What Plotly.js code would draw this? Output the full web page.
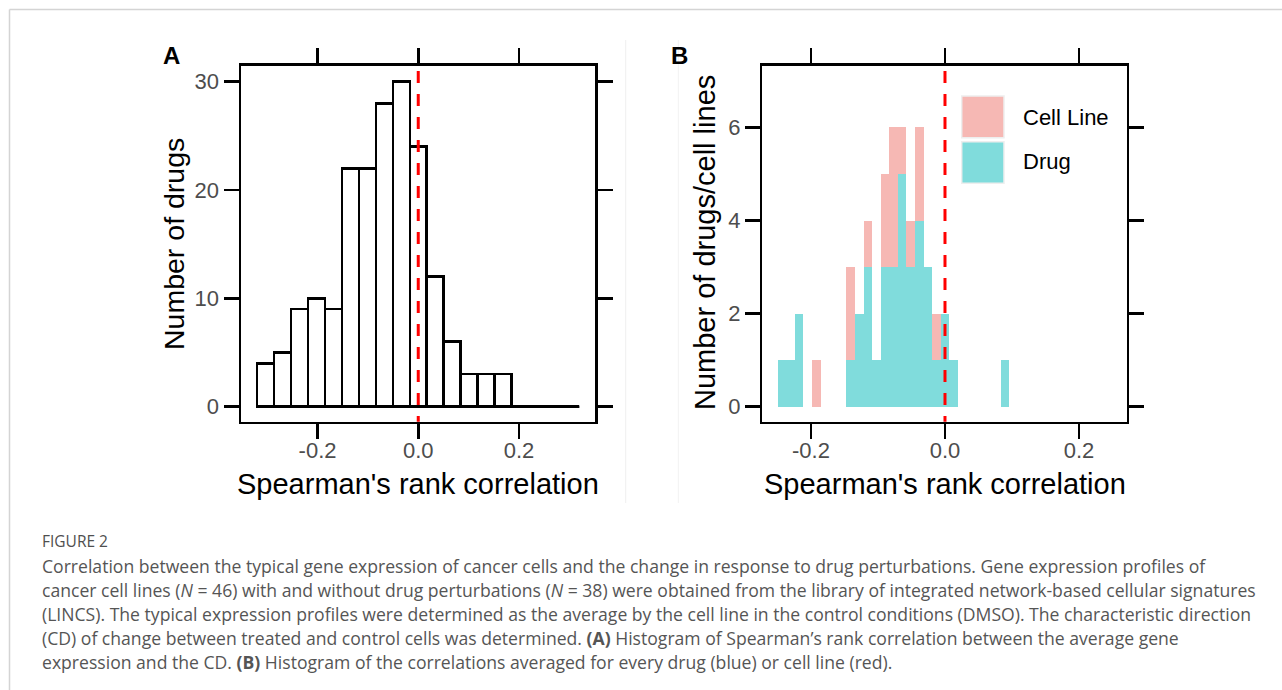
<!DOCTYPE html>
<html>
<head>
<meta charset="utf-8">
<script src="https://cdn.plot.ly/plotly-3.0.1.min.js"></script>
<style>
  html, body { margin: 0; padding: 0; background: #ffffff; }
  #chart { width: 1282px; height: 690px; }
</style>
</head>
<body>
<div id="chart"></div>
<script>
// ---------- Data ----------
// Panel A: histogram of Spearman's rank correlation (19 bins from -0.32 to 0.32)
const binLowA = -0.32;
const binHighA = 0.32;
const countsA = [4, 5, 9, 10, 9, 22, 22, 28, 30, 24, 12, 6, 3, 3, 3, 0, 0, 0, 0];

// Panel B: stacked histogram, bins centred on multiples of the bin width
const binWidthB = 0.0128;
const binIndexB = [-19, -18, -17, -16, -15, -14, -13, -12, -11, -10, -9, -8, -7, -6, -5, -4, -3, -2, -1, 0, 1, 2, 3, 4, 5, 6, 7];
const drugCounts = [1, 1, 2, 0, 0, 0, 0, 0, 1, 2, 3, 1, 3, 3, 5, 3, 4, 3, 1, 2, 1, 0, 0, 0, 0, 0, 1];
const cellLineCounts = [0, 0, 0, 0, 1, 0, 0, 0, 2, 0, 1, 0, 2, 3, 1, 1, 2, 0, 1, 0, 0, 0, 0, 0, 0, 0, 0];

const xTickVals = [-0.2, 0.0, 0.2];
const xTickText = ["-0.2", "0.0", "0.2"];
const yTickValsA = [0, 10, 20, 30];
const yTickValsB = [0, 2, 4, 6];
const refLineX = 0;

const legendLabels = ["Cell Line", "Drug"];
const xTitle = "Spearman's rank correlation";
const yTitleA = "Number of drugs";
const yTitleB = "Number of drugs/cell lines";

const captionHead = "FIGURE 2";
const captionLines = [
  "Correlation between the typical gene expression of cancer cells and the change in response to drug perturbations. Gene expression profiles of",
  "cancer cell lines (<i>N</i> = 46) with and without drug perturbations (<i>N</i> = 38) were obtained from the library of integrated network-based cellular signatures",
  "(LINCS). The typical expression profiles were determined as the average by the cell line in the control conditions (DMSO). The characteristic direction",
  "(CD) of change between treated and control cells was determined. <b>(A)</b> Histogram of Spearman\u2019s rank correlation between the average gene",
  "expression and the CD. <b>(B)</b> Histogram of the correlations averaged for every drug (blue) or cell line (red)."
];

// ---------- Derived bins ----------
const nA = countsA.length;
const wA = (binHighA - binLowA) / nA;
const centersA = countsA.map((_, i) => binLowA + (i + 0.5) * wA);
const centersB = binIndexB.map(j => j * binWidthB);

// zero-count run at the right end of panel A drawn as a baseline
let firstZero = nA;
while (firstZero > 0 && countsA[firstZero - 1] === 0) firstZero--;
const zeroRunX = [binLowA + firstZero * wA, binHighA];

// ---------- Helpers ----------
const W = 1282, H = 690;
const px = x => x / W;
const py = y => 1 - y / H;

const FONT = "Liberation Sans, Arial, Helvetica, sans-serif";
const CAPFONT = "Open Sans, sans-serif";
const PINK = "#F6B8B4";
const CYAN = "#80DCDC";

const axisCommon = {
  showgrid: false, zeroline: false, showline: true, linecolor: "#000000", linewidth: 2.5,
  mirror: "allticks", ticks: "outside", ticklen: 15, tickwidth: 2.5, tickcolor: "#000000",
  tickfont: {family: FONT, size: 22, color: "#4d4d4d"}, fixedrange: true
};

const traces = [
  {
    type: "bar", x: centersA, y: countsA, width: wA, xaxis: "x", yaxis: "y",
    marker: {color: "#ffffff", line: {color: "#000000", width: 2.5}},
    showlegend: false, hoverinfo: "skip"
  },
  {
    type: "scatter", mode: "lines", x: zeroRunX, y: [0, 0], xaxis: "x", yaxis: "y",
    line: {color: "#000000", width: 2.5}, showlegend: false, hoverinfo: "skip"
  },
  {
    type: "bar", name: legendLabels[1], x: centersB, y: drugCounts, width: binWidthB,
    xaxis: "x2", yaxis: "y2", marker: {color: CYAN, line: {width: 0}}, showlegend: false, hoverinfo: "skip"
  },
  {
    type: "bar", name: legendLabels[0], x: centersB, y: cellLineCounts, width: binWidthB,
    xaxis: "x2", yaxis: "y2", marker: {color: PINK, line: {width: 0}}, showlegend: false, hoverinfo: "skip"
  }
];

const shapes = [
  // page frame (top and left rules)
  {type: "line", xref: "paper", yref: "paper", x0: px(9.5), x1: 1.01, y0: py(9.5), y1: py(9.5), line: {color: "#d4d4d4", width: 1.5}},
  {type: "line", xref: "paper", yref: "paper", x0: px(9.5), x1: px(9.5), y0: py(9.5), y1: -0.01, line: {color: "#d4d4d4", width: 1.5}},
  // faint panel separators
  {type: "line", xref: "paper", yref: "paper", x0: px(625.7), x1: px(625.7), y0: py(40), y1: py(503), line: {color: "#efefef", width: 1}},
  {type: "line", xref: "paper", yref: "paper", x0: px(678.3), x1: px(678.3), y0: py(40), y1: py(503), line: {color: "#f2f2f2", width: 1}},
  // reference lines at 0
  {type: "line", xref: "x", yref: "y domain", x0: refLineX, x1: refLineX, y0: 0.985, y1: 0, layer: "above",
   line: {color: "#ff0000", width: 3, dash: "12px,11px"}},
  {type: "line", xref: "x2", yref: "y2 domain", x0: refLineX, x1: refLineX, y0: 0.985, y1: 0, layer: "above",
   line: {color: "#ff0000", width: 3, dash: "12px,11px"}},
  // legend keys (panel B)
  {type: "rect", xref: "paper", yref: "paper", x0: px(961.7), x1: px(1004), y0: py(137.7), y1: py(96),
   fillcolor: PINK, line: {color: "#eeeeee", width: 1.5}},
  {type: "rect", xref: "paper", yref: "paper", x0: px(961.7), x1: px(1004), y0: py(183.3), y1: py(141.7),
   fillcolor: CYAN, line: {color: "#eeeeee", width: 1.5}}
];

const ann = (text, x, y, opts) => Object.assign({
  text, xref: "paper", yref: "paper", x: px(x), y: py(y), showarrow: false,
  xanchor: "center", yanchor: "middle", font: {family: FONT, size: 29, color: "#000000"}
}, opts || {});

const annotations = [
  ann("<b>A</b>", 171, 55, {font: {family: FONT, size: 24, color: "#000000"}}),
  ann("<b>B</b>", 679, 55, {font: {family: FONT, size: 24, color: "#000000"}}),
  ann(xTitle, 418.3, 484),
  ann(xTitle, 945, 484),
  ann(yTitleA, 174, 244, {textangle: -90, font: {family: FONT, size: 28.5, color: "#000000"}}),
  ann(yTitleB, 705, 243, {textangle: -90, font: {family: FONT, size: 29, color: "#000000"}}),
  ann(legendLabels[0], 1020.7, 117, {xanchor: "left", font: {family: FONT, size: 22, color: "#000000"}}),
  ann(legendLabels[1], 1020.7, 161.7, {xanchor: "left", font: {family: FONT, size: 22, color: "#000000"}}),
  ann(captionHead, 40, 541, {xanchor: "left", font: {family: CAPFONT, size: 15.5, color: "#4f4f4f"}})
];
const captionY = [566, 590, 614, 638, 661.5];
captionLines.forEach((t, i) => {
  annotations.push(ann(t, 40, captionY[i], {xanchor: "left", align: "left",
    font: {family: CAPFONT, size: 17.6, color: "#555555"}}));
});

const layout = {
  width: W, height: H,
  margin: {l: 0, r: 0, t: 0, b: 0, pad: 0},
  paper_bgcolor: "#ffffff", plot_bgcolor: "#ffffff",
  showlegend: false, barmode: "stack", bargap: 0, hovermode: false,
  font: {family: FONT},
  xaxis: Object.assign({}, axisCommon, {domain: [px(241), px(595)], range: [-0.352, 0.351],
    tickvals: xTickVals, ticktext: xTickText, anchor: "y", ticklabelstandoff: -8}),
  yaxis: Object.assign({}, axisCommon, {domain: [py(421.7), py(65.7)], range: [-1.385, 31.48],
    tickvals: yTickValsA, anchor: "x"}),
  xaxis2: Object.assign({}, axisCommon, {domain: [px(762.4), px(1126.7)], range: [-0.2725, 0.2712],
    tickvals: xTickVals, ticktext: xTickText, anchor: "y2", ticklabelstandoff: -8}),
  yaxis2: Object.assign({}, axisCommon, {domain: [py(421.7), py(65.7)], range: [-0.3226, 7.327],
    tickvals: yTickValsB, anchor: "x2"}),
  shapes, annotations
};

Plotly.newPlot("chart", traces, layout, {staticPlot: true, displayModeBar: false});
</script>
</body>
</html>
